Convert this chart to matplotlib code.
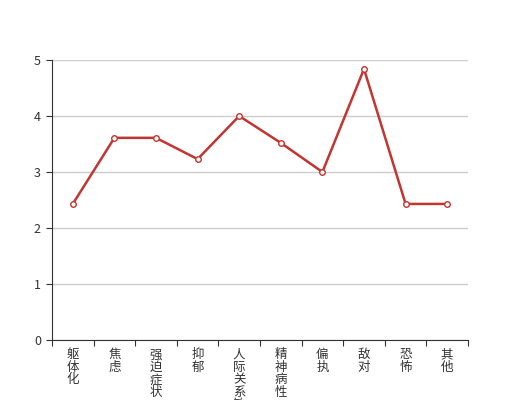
import matplotlib.pyplot as plt
import numpy as np

plt.rcParams['font.family'] = ['Noto Sans CJK SC', 'DejaVu Sans']

categories = ["躯体化", "焦虑", "强迫症状", "抑郁", "人际关系敏感",
              "精神病性", "偏执", "敌对", "恐怖", "其他"]
scores = [2.43, 3.61, 3.61, 3.23, 4.0, 3.52, 3.0, 4.84, 2.43, 2.43]

fig = plt.figure(figsize=(5.2, 4.0), dpi=100)
ax = fig.add_axes([52 / 520, 60 / 400, 416 / 520, 280 / 400])

x = np.arange(len(categories))
ax.plot(x, scores, color="#c23531", lw=1.8, marker="o", ms=4,
        mfc="white", mec="#c23531", mew=1, zorder=3, clip_on=False)

ax.set_xlim(-0.5, len(categories) - 0.5)
ax.set_ylim(0, 5)
ax.set_yticks(range(6))
ax.grid(axis="y", color="#cccccc", lw=1)
ax.set_axisbelow(True)

ax.set_xticks(np.arange(len(categories) + 1) - 0.5)
ax.set_xticklabels([])
ax.set_xticks(x, minor=True)
ax.set_xticklabels(["\n".join(c) for c in categories], minor=True,
                   fontsize=9, color="#333333", va="top", linespacing=0.95)
ax.tick_params(axis="x", which="minor", length=0, pad=6)
ax.tick_params(axis="x", which="major", length=4, direction="out", color="#333333")
ax.tick_params(axis="y", length=4, direction="out", color="#333333",
               labelsize=9, labelcolor="#333333", pad=4)

for s in ["top", "right"]:
    ax.spines[s].set_visible(False)
for s in ["left", "bottom"]:
    ax.spines[s].set_color("#333333")

fig.savefig("out.png", dpi=100)
